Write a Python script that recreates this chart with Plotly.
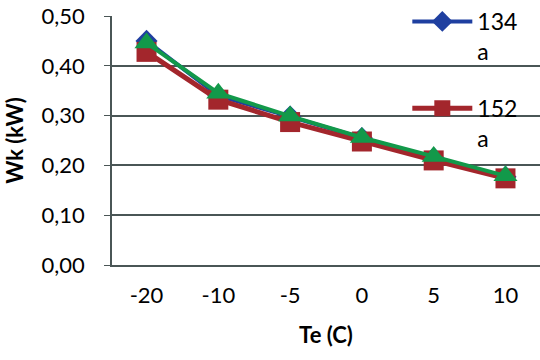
import plotly.graph_objects as go

categories = ["-20", "-10", "-5", "0", "5", "10"]
r134a = [0.450, 0.340, 0.298, 0.255, 0.215, 0.177]
r152a = [0.428, 0.332, 0.287, 0.248, 0.210, 0.174]
r3 = [0.446, 0.345, 0.299, 0.256, 0.218, 0.179]
names = ["134<br>a", "152<br>a"]

BLUE = "#1F3FA0"
RED = "#A3262C"
GREEN = "#12994A"
FONT = "Lato, 'Open Sans', sans-serif"

fig = go.Figure()
fig.add_trace(go.Scatter(x=categories, y=r134a, name=names[0], legendgroup="a",
                         mode="lines+markers",
                         line=dict(color=BLUE, width=4),
                         marker=dict(symbol="diamond", size=17, color=BLUE)))
fig.add_trace(go.Scatter(x=categories, y=r152a, name=names[1], legendgroup="b",
                         mode="lines+markers",
                         line=dict(color=RED, width=5),
                         marker=dict(symbol="square", size=20, color=RED)))
fig.add_trace(go.Scatter(x=categories, y=r3, name="", showlegend=False,
                         mode="lines+markers",
                         line=dict(color=GREEN, width=4),
                         marker=dict(symbol="triangle-up", size=21, color=GREEN)))

fig.update_layout(
    width=540, height=360,
    margin=dict(l=112, r=0, t=15, b=95),
    plot_bgcolor="white", paper_bgcolor="white",
    font=dict(family=FONT, size=22, color="black"),
    legend=dict(x=0.69, y=1.065, xanchor="left", yanchor="top",
                bgcolor="rgba(0,0,0,0)", font=dict(size=23), valign="top",
                tracegroupgap=24, itemwidth=60),
    xaxis=dict(type="category", showgrid=False, showline=True,
               linecolor="#4A5656", linewidth=1.5, ticks="",
               tickfont=dict(size=22), ticklabelstandoff=10,
               title=dict(text="<b>Te (C)</b>", font=dict(size=22), standoff=20)),
    yaxis=dict(range=[0, 0.5], dtick=0.1, tickformat=".2f",
               showgrid=True, gridcolor="#4A5656", gridwidth=1.5,
               showline=True, linecolor="#4A5656", linewidth=1.5,
               ticks="outside", ticklen=6, tickcolor="#4A5656",
               tickfont=dict(size=22), ticklabelstandoff=15,
               title=dict(text="<b>Wk (kW)</b>", font=dict(size=22), standoff=12)),
    separators=",.",
)

fig.write_html("out.html")
